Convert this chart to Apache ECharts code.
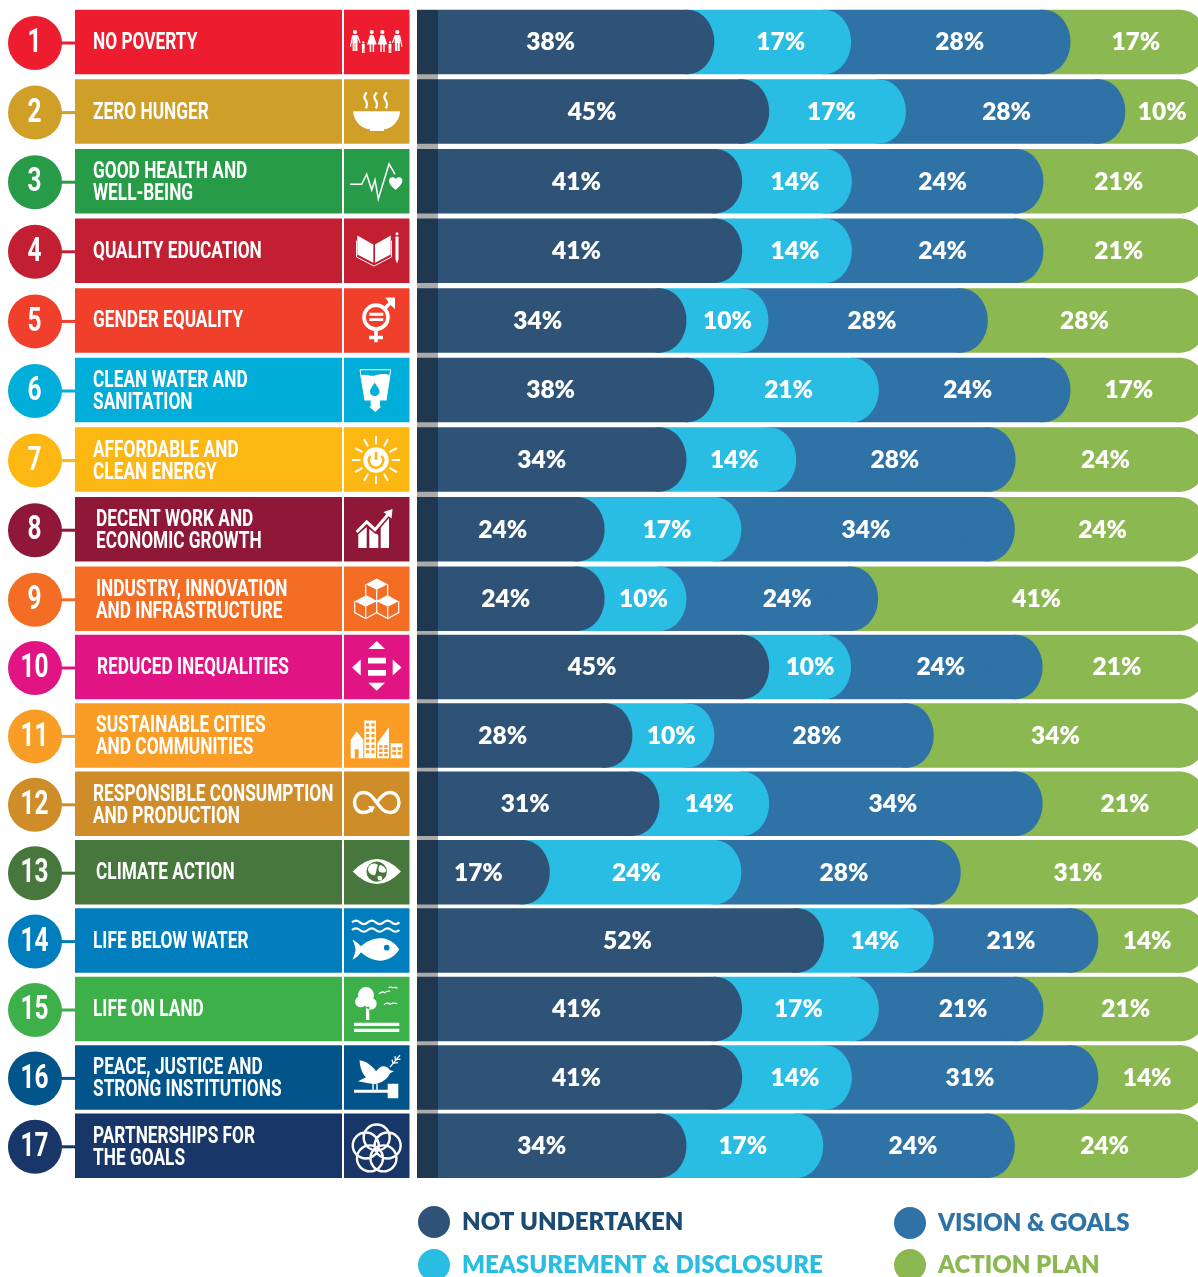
<!DOCTYPE html>
<html>
<head>
<meta charset="utf-8">
<style>
  html, body { margin: 0; padding: 0; background: #fff; }
  /* last bars run past the artwork's right edge and get cut off there */
  #frame { width: 1198px; height: 1277px; overflow: hidden; }
  #chart { width: 1220px; height: 1277px; }
</style>
<script src="https://cdn.jsdelivr.net/npm/echarts@6/dist/echarts.min.js"></script>
</head>
<body>
<div id="frame"><div id="chart"></div></div>
<script>
const goals = [
  'NO POVERTY', 'ZERO HUNGER', 'GOOD HEALTH AND\nWELL-BEING', 'QUALITY EDUCATION',
  'GENDER EQUALITY', 'CLEAN WATER AND\nSANITATION', 'AFFORDABLE AND\nCLEAN ENERGY',
  'DECENT WORK AND\nECONOMIC GROWTH', 'INDUSTRY, INNOVATION\nAND INFRASTRUCTURE',
  'REDUCED INEQUALITIES', 'SUSTAINABLE CITIES\nAND COMMUNITIES',
  'RESPONSIBLE CONSUMPTION\nAND PRODUCTION', 'CLIMATE ACTION', 'LIFE BELOW WATER',
  'LIFE ON LAND', 'PEACE, JUSTICE AND\nSTRONG INSTITUTIONS', 'PARTNERSHIPS FOR\nTHE GOALS',
]
const goalColors = [
  '#ed1c2e', '#cf9f28', '#279b48', '#c21f32', '#f03f2a', '#00aed9', '#fdb713', '#8f1838', '#f36d25',
  '#e11484', '#f99d26', '#cf8d2a', '#48773e', '#007dbc', '#3eb049', '#02558b', '#183668',
]

// printed labels are the rounded form of these
const notUndertaken = [37.9, 44.8, 41.4, 41.4, 34.4, 37.9, 34.4, 24.1, 24.1, 44.8, 27.6, 31.0, 17.2, 51.7, 41.4, 41.4, 34.4]
const measurement = [17.2, 17.2, 13.8, 13.8, 10.3, 20.7, 13.8, 17.2, 10.3, 10.3, 10.3, 13.8, 24.1, 13.8, 17.2, 13.8, 17.2]
const vision = [27.6, 27.6, 24.1, 24.1, 27.6, 24.1, 27.6, 34.4, 24.1, 24.1, 27.6, 34.4, 27.6, 20.7, 20.7, 31.0, 24.1]
const actionPlan = [17.2, 10.3, 20.7, 20.7, 27.6, 17.2, 24.1, 24.1, 41.4, 20.7, 34.4, 20.7, 31.0, 13.8, 20.7, 13.8, 24.1]

const phases = [
  { name: 'NOT UNDERTAKEN', values: notUndertaken, color: '#2f5377' },
  { name: 'MEASUREMENT & DISCLOSURE', values: measurement, color: '#29bde4' },
  { name: 'VISION & GOALS', values: vision, color: '#2f72a6' },
  { name: 'ACTION PLAN', values: actionPlan, color: '#8bb851' },
]

// the labels in the artwork were placed by hand, px off the middle of each segment
const labelNudge = [
  [-13, -2, -1, -3], [1, -6, -9, -4], [-1, -2, -5, -7], [-1, -2, -5, -7], [-12, 0, -6, -13],
  [-13, -8, -7, -10], [-8, -7, -11, -6], [-6, -6, -12, -8], [-3, -2, 5, -6], [1, 0, -6, -8],
  [-20, -2, -7, -15], [-11, -5, -13, 0], [-3, -9, -7, -6], [9, -4, -5, -6], [-1, -12, 2, 0],
  [-1, -2, -5, -6], [-8, -12, -6, -6],
]
const textLeft = [93, 93, 93, 93, 93, 93, 93, 96, 96, 97, 96, 93, 96, 93, 93, 93, 93]

// rows 1-9 and 10-17 sit on slightly different pitches, so two grids
const panels = [
  { top: 7.2, height: 626.4, from: 0, to: 9 },
  { top: 632.8, height: 547.2, from: 9, to: 17 },
]

const BAR_H = 64.5
const TIP_RX = 27

// ---- icon helpers, local box is the 66x65 icon tile
const circ = (x, y, r) => `M${x - r} ${y}a${r} ${r} 0 1 0 ${2 * r} 0a${r} ${r} 0 1 0 ${-2 * r} 0Z`
const box = (x, y, w, h) => `M${x} ${y}h${w}v${h}h${-w}Z`
const man = (x, top, s) => circ(x, top, 2.1 * s) + box(x - 2.6 * s, top + 3 * s, 5.2 * s, 8 * s) +
  box(x - 2.4 * s, top + 10 * s, 2.1 * s, 9 * s) + box(x + 0.3 * s, top + 10 * s, 2.1 * s, 9 * s)
const woman = (x, top) => circ(x, top, 2.1) + `M${x - 1.8} ${top + 3}h3.6l3.2 9.5h-2.6v7.5h-1.5v-7.5h-1.4v7.5h-1.5v-7.5h-2.6Z`
const cubeTop = (x, y) => `M${x} ${y - 6}l11 5.6l-11 5.6l-11 -5.6Z`
const cubeSide = (x, y) => `M${x - 11} ${y - 0.4}v11.5l11 6l11 -6v-11.5M${x} ${y + 5.2}v12`

function raysPath(cx, cy, r0, r1, n) {
  let d = ''
  for (let i = 0; i < n; i++) {
    const a = (i * 2 * Math.PI) / n
    d += `M${cx + r0 * Math.sin(a)} ${cy - r0 * Math.cos(a)}L${cx + r1 * Math.sin(a)} ${cy - r1 * Math.cos(a)}`
  }
  return d
}
function flowerPath(cx, cy, R, r) {
  let d = ''
  for (let i = 0; i < 5; i++) {
    const a = (i * 2 * Math.PI) / 5
    d += circ(cx + R * Math.sin(a), cy - R * Math.cos(a), r)
  }
  return d
}
function windows(x, y, cols, rows, w, h, gap) {
  let d = ''
  for (let c = 0; c < cols; c++) {
    for (let r = 0; r < rows; r++) d += box(x + c * (w + gap), y + r * (h + gap), w, h)
  }
  return d
}

// each icon is a list of parts: f = fill path, t = fill path in the tile colour,
// s = stroke path with width w, ts = the same stroke in the tile colour
const icons = [
  [{ f: man(11, 22.3, 1) + man(53.3, 22.3, 1) + woman(27.7, 22.3) + woman(38.3, 22.3) + man(19.3, 32.7, 0.55) + man(46, 32.7, 0.55) },
    { s: 'M8.6 26L6.5 37M13.4 26L16 33M55.7 26L58 37M51 26L48.5 33', w: 1.2 }],
  [{ f: 'M9.3 32H56C56 42 47 50 40 50V51.7H26V50C18 50 9.3 42 9.3 32Z' },
    { s: 'M22.7 13c-3 4-3 5-1 8c2 3 2 5 0 8M32.7 13c-3 4-3 5-1 8c2 3 2 5 0 8M42.7 13c-3 4-3 5-1 8c2 3 2 5 0 8', w: 2.2 }],
  [{ s: 'M6 35.3H17.7L22.7 25.3L27.7 41L31 31L34.3 50L45 15L51 25.3', w: 1.5 },
    { f: 'M51.7 41C47 37 45 34.5 45 31.5C45 28 50 27 51.7 30C53.4 27 58.4 28 58.4 31.5C58.4 34.5 56 37 51.7 41Z' }],
  [{ f: 'M13.3 17L29.3 26V44.3L13.3 36ZM31 26L46.7 17V36L31 44.3Z' },
    { s: 'M12.6 22V38.5L30 47.5L47.4 38.5V22', w: 1 },
    { f: box(51.5, 18, 3, 23) + 'M51.5 41h3l-1.5 4Z' + circ(53, 15.2, 1.5) }],
  [{ s: circ(32, 29, 12) + 'M41 20L49 12M32 41V54M25 49.3H39', w: 3.6 },
    { f: 'M41 9.3H51V21L47 17L44 13Z' + box(25.3, 24.7, 14, 2.8) + box(25.3, 30, 14, 2.8) }],
  [{ s: 'M16 12H46.7', w: 1 },
    { f: 'M16.5 17.7C22 15.5 26 19 31 17.7C36 16.4 41 15.5 46.2 17.7L42 42.7H21ZM26.7 42.7H36V48.7H37.3L31.3 54.3L25 48.7H26.7Z' },
    { s: 'M16 12L21 42.7M46.7 12L42 42.7', w: 1 },
    { t: 'M30.7 25C33.5 29 35.5 31.2 35.5 33.8C35.5 36.5 33.4 38.3 30.7 38.3C28 38.3 26 36.5 26 33.8C26 31.2 28 29 30.7 25Z' }],
  [{ f: circ(32, 32.7, 12.7) },
    { s: raysPath(32, 32.7, 15.7, 24, 12), w: 2 },
    { ts: 'M26.5 28.5A7.2 7.2 0 1 0 37.5 28.5', w: 2.6 },
    { t: box(30.7, 24.5, 2.6, 8) }],
  [{ f: 'M14.3 37L22.7 30V51H14.3ZM25.3 32L34.3 38V51H25.3ZM36.7 27L45 20V51H36.7Z' },
    { ts: 'M12.7 35L22.7 25L31 32.7L46 15.3', w: 6 },
    { s: 'M12.7 35L22.7 25L31 32.7L44 17.5', w: 3 },
    { f: 'M39.5 15L48.5 12L47.5 21.5Z' }],
  [{ f: cubeTop(32.7, 18) + cubeTop(21.7, 35) + cubeTop(43.7, 35) },
    { s: cubeSide(32.7, 18) + cubeSide(21.7, 35) + cubeSide(43.7, 35), w: 1.2 }],
  [{ f: 'M24.3 14.3H41L32.7 6.3ZM24.3 48H41L32.7 56ZM16.7 24.7V40.7L8 32.7ZM48.7 24.7V40.7L57.5 32.7Z' + box(24, 23, 18, 5.7) + box(24, 35.3, 18, 5.7) }],
  [{ f: 'M6.7 36.7L12.7 28.3L19.3 36.7V55H6.7Z' + box(20.3, 17.3, 11.7, 37.7) + 'M33.3 40L45 24V55H33.3Z' + box(46.7, 40, 11.7, 15) },
    { t: box(10.8, 46, 3.8, 9) + windows(22, 20, 2, 6, 3.2, 3.2, 2.2) + windows(35, 42, 2, 3, 3.6, 2.6, 1.6) + windows(48.3, 44, 2, 2, 3.8, 3, 1.5) }],
  [{ s: 'M26.5 38.3C24.7 40 22 41 19.5 41C14 41 10.5 36.5 10.5 31C10.5 25.5 14 21 19.5 21C26 21 29 26 32.7 31C36.5 36 40 41 46 41C51.5 41 55 36.5 55 31C55 25.5 51.5 21 46 21C40 21 36.5 26 32.7 31', w: 3.4 },
    { f: 'M24 34.5L31 35L28 41.5Z' }],
  [{ f: 'M8.7 31.5Q33 6.5 57 31.5Q33 56.5 8.7 31.5Z' },
    { t: circ(32.7, 31.7, 10.2) },
    { f: 'M25 26C28 22.5 32 23 34 25C32 29 33 31 31 35C28.5 36 24.5 33 23.8 29.5ZM36 25C39 25.5 42 28 42.2 31.5C40 33.5 37 32.5 35 31.5C34 29 34.5 27 36 25ZM33.5 36.5C36 35 39 36 38 39.5C36 41.5 33.5 40.5 33.5 36.5Z' }],
  [{ s: 'M8 14q4-3.4 7.9 0t7.9 0t7.9 0t7.9 0t7.9 0t7.9 0M8 21.7q4-3.4 7.9 0t7.9 0t7.9 0t7.9 0t7.9 0t7.9 0', w: 2.1 },
    { f: 'M8.5 31.5C12 33 15 36 17 38C23 32 32 29.5 39 30C46 31 52 36 55.3 41C52 47 45 52 37 52.3C30 52.5 22 49 17 44C15 47 12 50 8.5 51.5C10.5 46 11.5 44 11.5 41.5C11.5 39 10.5 36.5 8.5 31.5Z' },
    { t: circ(42.7, 39.3, 2.8) }],
  [{ f: circ(22, 18.3, 8) + circ(16.7, 25, 5.6) + circ(26.7, 27, 6) + box(22, 30, 3.3, 13.3) + box(10, 46, 45.3, 3.3) + box(10, 52, 45.3, 3.3) },
    { s: 'M35 17Q38.5 14 40.5 16Q43 14 46 14.5M44.5 11Q47 9.5 49 11Q51 10 53.5 11.5M40 28Q43 25 46 27.5Q49 25.5 53.5 27', w: 1.2 }],
  [{ f: 'M15.5 15C22 16 28 20 32 26L36 22C40 20 44 22 46 25L50 26L46 28C44 33 38 38 30 39L14 36L22 32C18 28 16 22 15.5 15Z' + box(10, 44.5, 34.3, 3.2) + box(43.7, 38.5, 10.6, 14.6) },
    { s: 'M29 39V45M33 38.5V45', w: 1.4 },
    { s: 'M46 22L56 10M49 18.5L48 14.5M51.5 15.5L51 11M50 18L54 17.5M52.5 14.5L56.5 14', w: 1.3 }],
  [{ s: flowerPath(32.7, 35.5, 11.5, 13), w: 2.4 }],
]

function renderSegment(params, api) {
  const start = api.value(0)
  const row = api.value(2)
  const [xa, y] = api.coord([start, row])
  const xb = api.coord([api.value(1), row])[0]
  const color = api.visual('color')
  const left = start === 0 ? xa + 4 : xa - TIP_RX
  return {
    type: 'group',
    children: [
      { type: 'rect', shape: { x: left, y: y - BAR_H / 2, width: xb - TIP_RX - left, height: BAR_H }, style: { fill: color } },
      { type: 'ellipse', shape: { cx: xb - TIP_RX, cy: y, rx: TIP_RX, ry: BAR_H / 2 }, style: { fill: color } },
      {
        type: 'text',
        x: (xa + xb) / 2 + api.value(4),
        y: y + 0.5,
        z2: 5,
        style: {
          text: Math.round(api.value(3)) + '%',
          fill: '#fff',
          font: '800 24.5px Lato',
          align: 'center',
          verticalAlign: 'middle',
        },
      },
    ],
  }
}

function iconChildren(parts, tile) {
  return parts.map((p) => {
    if (p.f) return { type: 'path', shape: { pathData: p.f }, style: { fill: '#fff' } }
    if (p.t) return { type: 'path', shape: { pathData: p.t }, style: { fill: tile } }
    const stroke = p.ts ? tile : '#fff'
    return { type: 'path', shape: { pathData: p.ts || p.s }, style: { fill: 'none', stroke, lineWidth: p.w } }
  })
}

function renderTile(params, api) {
  const i = api.value(0)
  const row = api.value(1)
  const y = api.coord([0, row])[1]
  const top = y - BAR_H / 2
  const color = goalColors[i]
  const twoLines = goals[i].includes('\n')
  return {
    type: 'group',
    children: [
      { type: 'line', shape: { x1: 55, y1: y + 1, x2: 76, y2: y + 1 }, style: { stroke: color, lineWidth: 3 } },
      { type: 'circle', shape: { cx: 35, cy: y + 1, r: 27 }, style: { fill: color } },
      {
        type: 'text', x: 34.5, y: y + 2, scaleX: 0.74,
        style: { text: String(i + 1), fill: '#fff', font: '700 33px Roboto', align: 'center', verticalAlign: 'middle' },
      },
      { type: 'rect', shape: { x: 75, y: top, width: 267, height: BAR_H }, style: { fill: color } },
      { type: 'rect', shape: { x: 344, y: top, width: 65.5, height: BAR_H }, style: { fill: color } },
      {
        type: 'text', x: textLeft[i], y: twoLines ? y + 2 : y + 1, scaleX: 0.72,
        style: { text: goals[i], fill: '#fff', font: '700 24px Roboto', lineHeight: 22, verticalAlign: 'middle' },
      },
      { type: 'group', x: 344, y: top, children: iconChildren(icons[i], color) },
    ],
  }
}

// a bar's rounded end lies over the next phase, so the last phase goes down first
const series = []
panels.forEach((panel, g) => {
  phases.forEach((phase, p) => {
    const data = []
    for (let i = panel.from; i < panel.to; i++) {
      let start = 0
      for (let k = 0; k < p; k++) start += phases[k].values[i]
      data.push([start, start + phase.values[i], i - panel.from, phase.values[i], labelNudge[i][p]])
    }
    series.push({
      type: 'custom',
      name: phase.name,
      xAxisIndex: g,
      yAxisIndex: g,
      z: 10 - p,
      itemStyle: { color: phase.color },
      encode: { x: [0, 1], y: 2 },
      renderItem: renderSegment,
      data,
    })
  })
  const tiles = []
  for (let i = panel.from; i < panel.to; i++) tiles.push([i, i - panel.from])
  series.push({
    type: 'custom',
    name: 'goals',
    xAxisIndex: g,
    yAxisIndex: g,
    z: 12,
    encode: { y: 1 },
    renderItem: renderTile,
    data: tiles,
  })
})

const legendPlaces = [
  { name: 'NOT UNDERTAKEN', left: 418, top: 1206, color: '#1b4a72', pad: [0, 0, 0, 7] },
  { name: 'MEASUREMENT & DISCLOSURE', left: 418, top: 1249, color: '#29bde4', pad: [0, 0, 0, 7] },
  { name: 'VISION & GOALS', left: 894, top: 1207, color: '#2f72a6', pad: [2, 0, 0, 7] },
  { name: 'ACTION PLAN', left: 894, top: 1249, color: '#8bb851', pad: [0, 0, 0, 7] },
]

const chart = echarts.init(document.getElementById('chart'), null, { renderer: 'canvas' })
chart.setOption({
  animation: false,
  grid: panels.map((p) => ({ left: 413, width: 795, top: p.top, height: p.height })),
  xAxis: panels.map((p, g) => ({ type: 'value', gridIndex: g, min: 0, max: 100, show: false })),
  yAxis: panels.map((p, g) => ({
    type: 'category',
    gridIndex: g,
    inverse: true,
    show: false,
    data: goals.slice(p.from, p.to),
  })),
  legend: legendPlaces.map((l) => ({
    left: l.left,
    top: l.top,
    padding: 0,
    icon: 'circle',
    itemWidth: 32,
    itemHeight: 32,
    itemGap: 0,
    selectedMode: false,
    data: [l.name],
    textStyle: { color: l.color, fontFamily: 'Lato', fontWeight: 800, fontSize: 24, padding: l.pad },
  })),
  // the dark strip is see-through, it turns grey across the white row gaps
  graphic: [{
    type: 'rect',
    z: 50,
    shape: { x: 417, y: 10, width: 21, height: 1168 },
    style: { fill: 'rgba(0,0,0,0.33)' },
  }],
  series,
})
</script>
</body>
</html>
